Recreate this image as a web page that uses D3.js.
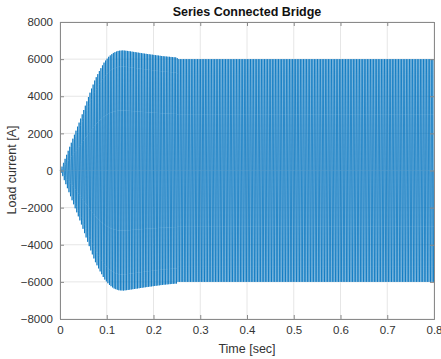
<!DOCTYPE html>
<html>
<head>
<meta charset="utf-8">
<script src="https://cdn.jsdelivr.net/npm/d3@7"></script>
<style>
  html, body { margin: 0; padding: 0; background: #fff; }
  svg { display: block; font-family: "Liberation Sans", Arial, sans-serif; }
</style>
</head>
<body>
<svg id="chart" width="441" height="359"></svg>
<script>
// ---- data ----
const title = "Series Connected Bridge";
const xLabel = "Time [sec]";
const yLabel = "Load current [A]";
const xTicks = [0, 0.1, 0.2, 0.3, 0.4, 0.5, 0.6, 0.7, 0.8];
const yTicks = [-8000, -6000, -4000, -2000, 0, 2000, 4000, 6000, 8000];
// envelope (peak amplitude) of the oscillating load current
const envTime = [0, 0.005, 0.015, 0.025, 0.035, 0.045, 0.055, 0.065, 0.075, 0.085, 0.095, 0.105, 0.115, 0.125, 0.135, 0.145, 0.16, 0.18, 0.20, 0.22, 0.24, 0.25, 0.252, 0.8];
const envUpper = [0, 250, 900, 1550, 2200, 2850, 3550, 4250, 4900, 5400, 5850, 6150, 6350, 6450, 6470, 6440, 6380, 6300, 6230, 6160, 6110, 6090, 6000, 6000];
const envLower = [0, -250, -900, -1550, -2200, -2850, -3550, -4250, -4900, -5400, -5850, -6150, -6350, -6450, -6470, -6440, -6380, -6300, -6230, -6160, -6110, -6090, -6000, -6000];
const carrierHz = 300;

// ---- layout ----
const svg = d3.select("#chart");
const L = 60, R = 434, T = 22, B = 319;
const x = d3.scaleLinear().domain([0, 0.8]).range([L, R]);
const y = d3.scaleLinear().domain([-8000, 8000]).range([B, T]);

const up = d3.scaleLinear().domain(envTime).range(envUpper);
const lo = d3.scaleLinear().domain(envTime).range(envLower);

// grid
const grid = svg.append("g");
grid.selectAll(".gx").data(xTicks).join("line")
  .attr("x1", d => x(d)).attr("x2", d => x(d)).attr("y1", T).attr("y2", B)
  .attr("stroke", "#e6e6e6").attr("stroke-width", 1);
grid.selectAll(".gy").data(yTicks).join("line")
  .attr("x1", L).attr("x2", R).attr("y1", d => y(d)).attr("y2", d => y(d))
  .attr("stroke", "#e6e6e6").attr("stroke-width", 1);

// waveform
const pts = [];
const nPerCycle = 12;
const total = Math.round(0.8 * carrierHz * nPerCycle);
for (let i = 0; i <= total; i++) {
  const t = i / (carrierHz * nPerCycle);
  const s = Math.sin(2 * Math.PI * carrierHz * t);
  const v = s >= 0 ? s * up(t) : -s * lo(t);
  pts.push([t, v]);
}
svg.append("path")
  .datum(pts)
  .attr("fill", "none")
  .attr("stroke", "#0072BD")
  .attr("stroke-width", 0.75)
  .attr("d", d3.line().x(d => x(d[0])).y(d => y(d[1])));

// axes
const axColor = "#8a8a8a";
const xAxis = svg.append("g").attr("transform", `translate(0,${B})`)
  .call(d3.axisBottom(x).tickValues(xTicks).tickSize(-4).tickPadding(7).tickFormat(d3.format("")));
const xAxisTop = svg.append("g").attr("transform", `translate(0,${T})`)
  .call(d3.axisTop(x).tickValues(xTicks).tickSize(-4).tickFormat(""));
const yAxis = svg.append("g").attr("transform", `translate(${L},0)`)
  .call(d3.axisLeft(y).tickValues(yTicks).tickSize(-4).tickPadding(7).tickFormat(d3.format("")));
const yAxisRight = svg.append("g").attr("transform", `translate(${R},0)`)
  .call(d3.axisRight(y).tickValues(yTicks).tickSize(-4).tickFormat(""));
[xAxis, xAxisTop, yAxis, yAxisRight].forEach(g => {
  g.select(".domain").attr("stroke", axColor).attr("stroke-width", 1);
  g.selectAll(".tick line").attr("stroke", axColor);
  g.selectAll(".tick text").attr("fill", "#333").attr("font-size", 11.5)
    .attr("font-family", "Liberation Sans, Arial, sans-serif");
});

// labels
svg.append("text").attr("x", 247).attr("y", 16).attr("text-anchor", "middle")
  .attr("font-size", 12.5).attr("font-weight", "bold").attr("fill", "#111").text(title);
svg.append("text").attr("x", 247).attr("y", 353).attr("text-anchor", "middle")
  .attr("font-size", 12.5).attr("fill", "#333").text(xLabel);
svg.append("text").attr("transform", `translate(16,170) rotate(-90)`).attr("text-anchor", "middle")
  .attr("font-size", 12.5).attr("fill", "#333").text(yLabel);
</script>
</body>
</html>
